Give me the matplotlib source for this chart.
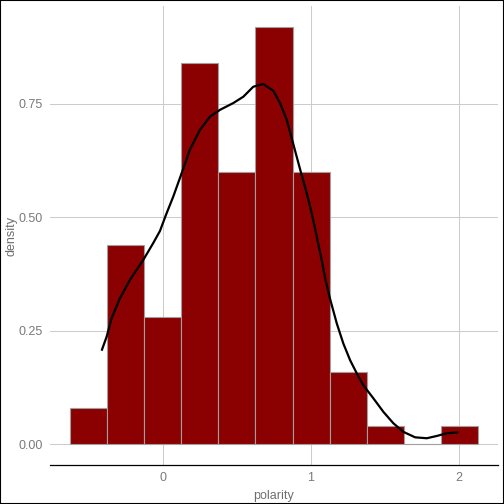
import matplotlib
matplotlib.use("Agg")
import matplotlib.pyplot as plt
from matplotlib.patches import Rectangle

# histogram bins (centres, width 0.25) and densities
bin_centers = [-0.5, -0.25, 0.0, 0.25, 0.5, 0.75, 1.0, 1.25, 1.5, 1.75, 2.0]
bin_density = [0.08, 0.44, 0.28, 0.84, 0.60, 0.92, 0.60, 0.16, 0.04, 0.0, 0.04]
bin_width = 0.25

# density curve
curve_x = [-0.414, -0.380, -0.347, -0.291, -0.223, -0.133, -0.066, -0.020, 0.020,
           0.070, 0.126, 0.182, 0.250, 0.318, 0.385, 0.475, 0.543, 0.610, 0.678,
           0.745, 0.791, 0.836, 0.870, 0.903, 0.937, 0.971, 1.005, 1.039, 1.072,
           1.095, 1.128, 1.174, 1.218, 1.264, 1.309, 1.353, 1.421, 1.489, 1.556,
           1.624, 1.703, 1.782, 1.849, 1.917, 1.995]
curve_y = [0.206, 0.237, 0.277, 0.321, 0.362, 0.406, 0.443, 0.470, 0.505,
           0.546, 0.597, 0.649, 0.693, 0.722, 0.737, 0.752, 0.766, 0.788, 0.794,
           0.779, 0.752, 0.715, 0.674, 0.634, 0.593, 0.553, 0.509, 0.457, 0.406,
           0.366, 0.321, 0.266, 0.222, 0.185, 0.156, 0.130, 0.101, 0.071, 0.046,
           0.027, 0.015, 0.013, 0.018, 0.024, 0.026]

x_ticks = [0, 1, 2]
y_ticks = [0.0, 0.25, 0.5, 0.75]
y_ticklabels = ["0.00", "0.25", "0.50", "0.75"]

plt.rcParams["font.family"] = ["Liberation Sans", "DejaVu Sans"]

fig = plt.figure(figsize=(5.04, 5.04), dpi=100)
ax = fig.add_axes([50 / 504, 39 / 504, 448 / 504, 459 / 504])

ax.bar(bin_centers, bin_density, width=bin_width, color="#8B0000",
       edgecolor="#A0A0A0", linewidth=0.8, zorder=2)
ax.plot(curve_x, curve_y, color="black", lw=1.6, zorder=3,
        solid_capstyle="butt", solid_joinstyle="round")

lo = bin_centers[0] - bin_width / 2
hi = bin_centers[-1] + bin_width / 2
pad = (hi - lo) * 0.05
ax.set_xlim(lo - pad, hi + pad)
ymax = max(bin_density)
ax.set_ylim(-ymax * 0.05, ymax * 1.05)

ax.set_xticks(x_ticks)
ax.set_yticks(y_ticks)
ax.set_yticklabels(y_ticklabels)
ax.grid(True, color="#CCCCCC", lw=0.75, zorder=0)
ax.set_axisbelow(True)
ax.tick_params(length=0, pad=5, labelsize=9, labelcolor="#7A7A7A")

for side in ["top", "right", "left"]:
    ax.spines[side].set_visible(False)
ax.spines["bottom"].set_color("black")
ax.spines["bottom"].set_linewidth(0.9)

ax.set_xlabel("polarity", fontsize=9, color="#6E6E6E", labelpad=4)
ax.set_ylabel("density", fontsize=9, color="#6E6E6E", labelpad=1)

# frame round the whole image
fig.patches.append(Rectangle((0, 0), 1, 1, transform=fig.transFigure,
                             fill=False, edgecolor="black", lw=1.5))

fig.savefig("out.png", dpi=100)
